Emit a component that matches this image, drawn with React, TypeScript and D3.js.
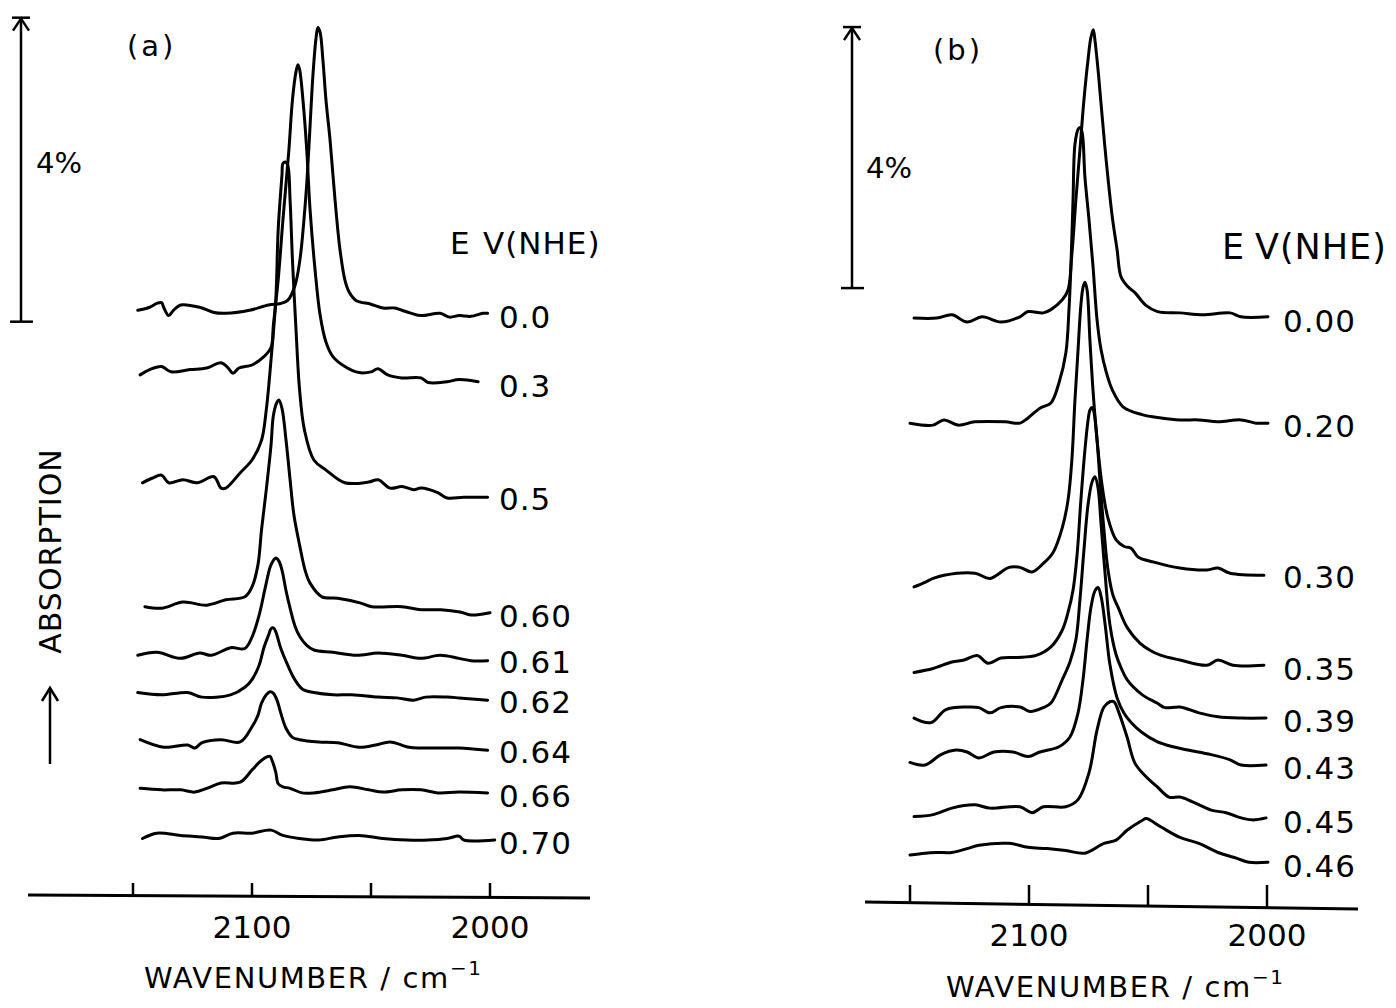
import React from "react";
import * as d3 from "d3";

// ---------- DATA ----------
const axisTicks = [2150, 2100, 2050, 2000];
const labeledTicks = [2100, 2000];
const scaleBarPct = 4;

// Panel (a): potentials (V vs NHE), baseline offsets (%), spectra [wavenumber, absorption % above baseline]
const potentialsA = ["0.0", "0.3", "0.5", "0.60", "0.61", "0.62", "0.64", "0.66", "0.70"];
const offsetsA = [7.68, 6.78, 5.29, 3.75, 3.14, 2.62, 1.96, 1.38, 0.76];

const specA_00: [number, number][] = [[2148,0.04],[2143,0.08],[2140,0.13],[2138,0.14],[2137,0.07],[2135,-0.03],[2133,0.04],[2130,0.11],[2122,0.08],[2116,0.01],[2111,0.0],[2101,0.04],[2093,0.11],[2088,0.13],[2085,0.17],[2081.9,0.37],[2079.8,0.72],[2078.2,1.22],[2076.9,1.75],[2075.6,2.47],[2074.4,3.13],[2073.1,3.62],[2072.3,3.76],[2071.4,3.7],[2070.2,3.33],[2068.9,2.8],[2067.2,2.28],[2065.1,1.49],[2063,0.83],[2060.9,0.43],[2059.2,0.28],[2056.3,0.17],[2050,0.12],[2045,0.07],[2040,0.07],[2037,0.04],[2033,0.0],[2029,-0.03],[2021,0.0],[2017,-0.05],[2013,-0.03],[2008,-0.04],[2003,0.0],[2001,0.0]];
const specA_03: [number, number][] = [[2147,0.09],[2143,0.16],[2138,0.2],[2134,0.13],[2126,0.16],[2119,0.18],[2113,0.25],[2110,0.18],[2108,0.11],[2105.5,0.18],[2100,0.22],[2095,0.33],[2092,0.45],[2091,0.75],[2089,1.34],[2087,2.13],[2084.5,3.05],[2083,3.71],[2081.5,4.08],[2080.7,4.17],[2080,4.11],[2078.6,3.71],[2077,3.05],[2075.6,2.26],[2073.5,1.47],[2071.4,0.88],[2069,0.53],[2066,0.33],[2061,0.2],[2055,0.12],[2050,0.13],[2047,0.17],[2043,0.09],[2037,0.05],[2029,0.05],[2026,-0.01],[2018,0.0],[2013,0.03],[2005,0.0]];
const specA_05: [number, number][] = [[2146,0.16],[2142,0.22],[2138,0.26],[2135,0.16],[2129,0.2],[2123,0.16],[2116,0.24],[2113,0.09],[2111,0.09],[2105,0.29],[2100,0.46],[2096,0.72],[2094,1.12],[2092,1.78],[2090,2.57],[2089,3.49],[2087.4,4.21],[2087,4.36],[2086,4.38],[2085,4.34],[2084,3.88],[2083,3.09],[2081.5,2.17],[2080,1.38],[2078,0.86],[2074,0.46],[2069,0.33],[2061,0.16],[2051,0.17],[2047,0.2],[2042,0.09],[2037,0.11],[2032,0.07],[2029,0.09],[2022,0.03],[2018,-0.04],[2011,-0.03],[2001,-0.03]];
const specA_060: [number, number][] = [[2145,0.07],[2138,0.05],[2129,0.13],[2119,0.09],[2111,0.16],[2103,0.2],[2100,0.33],[2097.5,0.62],[2096,1.08],[2094,1.61],[2092,2.2],[2091,2.59],[2089.5,2.76],[2088.7,2.79],[2087.4,2.68],[2085.7,2.26],[2084,1.74],[2082.4,1.28],[2080,0.88],[2077.7,0.55],[2075.6,0.38],[2070.6,0.2],[2064,0.18],[2054.6,0.12],[2049.6,0.07],[2037,0.07],[2029,0.03],[2020.6,0.03],[2012.6,0.0],[2008,-0.04],[2000,-0.01]];
const specA_061: [number, number][] = [[2148,0.04],[2140,0.08],[2130,0.0],[2122,0.07],[2117,0.04],[2109,0.14],[2103,0.13],[2100,0.28],[2097,0.57],[2094.5,0.92],[2092.4,1.2],[2091,1.29],[2090,1.32],[2088.7,1.28],[2087.4,1.16],[2085.7,0.89],[2084,0.66],[2082,0.43],[2080,0.29],[2077,0.17],[2074,0.11],[2066,0.08],[2056,0.04],[2047,0.07],[2037,0.04],[2029,0.0],[2021,0.04],[2013,0.0],[2008,-0.03],[2001,-0.03]];
const specA_062: [number, number][] = [[2148,0.07],[2138,0.04],[2127,0.07],[2121,0.01],[2109,0.04],[2103,0.14],[2100,0.24],[2097,0.43],[2095,0.66],[2093,0.83],[2092,0.91],[2091,0.92],[2090,0.87],[2088,0.66],[2085,0.43],[2082,0.24],[2078.6,0.11],[2074,0.07],[2066,0.04],[2058,0.04],[2047,0.01],[2039,0.0],[2032,-0.03],[2027,0.01],[2018,0.01],[2013,0.0],[2001,-0.03]];
const specA_064: [number, number][] = [[2147,0.11],[2137,0.01],[2127,0.04],[2124,0.0],[2121,0.07],[2113,0.11],[2105,0.08],[2100,0.28],[2097.5,0.43],[2096,0.59],[2094,0.7],[2092.4,0.74],[2091,0.72],[2089.5,0.63],[2088,0.47],[2085.7,0.26],[2083,0.14],[2080,0.11],[2072,0.08],[2064,0.07],[2055,0.01],[2048,0.04],[2042,0.08],[2034,0.01],[2029,0.0],[2021,0.0],[2013,0.0],[2001,-0.03]];
const specA_066: [number, number][] = [[2147,0.05],[2138,0.03],[2130,0.03],[2124,0.0],[2119,0.05],[2113,0.12],[2105,0.13],[2100,0.29],[2097,0.39],[2094,0.46],[2092.4,0.47],[2091.6,0.42],[2090,0.26],[2089,0.11],[2087,0.07],[2084,0.05],[2079,-0.01],[2074,-0.01],[2066,0.03],[2059,0.07],[2051,0.03],[2045,0.0],[2037,0.03],[2029,0.03],[2022,-0.01],[2013,0.0],[2001,-0.01]];
const specA_070: [number, number][] = [[2146,0.01],[2140,0.08],[2130,0.05],[2121,0.03],[2114,0.01],[2108,0.08],[2100,0.08],[2092,0.12],[2087,0.05],[2080,0.01],[2072,-0.01],[2064,0.03],[2055,0.05],[2045,0.01],[2035,-0.01],[2026,-0.01],[2018,0.01],[2013,0.04],[2011,-0.01],[1998,-0.01]];
const spectraA = [specA_00, specA_03, specA_05, specA_060, specA_061, specA_062, specA_064, specA_066, specA_070];

// Panel (b)
const potentialsB = ["0.00", "0.20", "0.30", "0.35", "0.39", "0.43", "0.45", "0.46"];
const offsetsB = [9.03, 7.42, 5.1, 3.69, 2.9, 2.18, 1.35, 0.67];

const specB_000: [number, number][] = [[2148.3,-0.02],[2138.7,-0.02],[2132.4,0.03],[2126,-0.08],[2119.7,0.0],[2111.8,-0.08],[2103.8,0.0],[2100.4,0.08],[2094,0.06],[2090.8,0.11],[2086,0.26],[2083.6,0.41],[2082,0.95],[2080.3,1.79],[2078.6,2.56],[2076.9,3.33],[2075.2,3.94],[2074,4.28],[2073,4.4],[2072.3,4.24],[2071,3.79],[2069.7,3.25],[2067.6,2.41],[2065,1.53],[2063,1.03],[2061.3,0.61],[2058.4,0.46],[2055.5,0.37],[2051,0.18],[2046,0.08],[2036.6,0.06],[2027,0.03],[2015.5,0.06],[2011,0.0],[1999.6,0.0]];
const specB_020: [number, number][] = [[2150,-0.02],[2140.3,-0.05],[2135.7,0.03],[2129.8,-0.05],[2122.7,0.0],[2110,0.0],[2103.8,-0.02],[2100.4,0.06],[2095.4,0.21],[2090.8,0.29],[2087.4,0.6],[2084.5,1.06],[2083.2,1.72],[2082.4,2.38],[2081.5,3.4],[2080.7,4.25],[2079.4,4.48],[2078.6,4.51],[2077.7,4.44],[2076.5,3.75],[2074.8,3.1],[2073.1,2.38],[2071.4,1.56],[2069.7,1.1],[2067.6,0.77],[2065,0.49],[2060.5,0.23],[2052.5,0.11],[2044.5,0.06],[2036.6,0.03],[2028.6,0.03],[2020.6,0.0],[2010.9,0.03],[2004.6,-0.02],[1999.6,-0.02]];
const specB_030: [number, number][] = [[2148.3,-0.21],[2143.7,-0.14],[2140.3,-0.08],[2135.7,-0.03],[2122.7,0.0],[2116.4,-0.08],[2108.4,0.09],[2103.8,0.09],[2098.7,0.02],[2094,0.15],[2090,0.31],[2086,0.7],[2083.6,1.12],[2082,1.73],[2080.7,2.65],[2079.4,3.42],[2078.2,4.11],[2077.3,4.38],[2076.5,4.46],[2075.6,4.34],[2074.4,3.57],[2073.1,2.8],[2071.4,2.04],[2069.3,1.35],[2066.8,0.84],[2063.4,0.51],[2060,0.41],[2057,0.38],[2054.2,0.25],[2047.5,0.17],[2036.6,0.08],[2025.2,0.05],[2020.6,0.08],[2015.5,0.0],[2001.3,-0.03]];
const specB_035: [number, number][] = [[2148.3,-0.11],[2140.3,-0.05],[2132.4,0.05],[2127.3,0.08],[2121.8,0.15],[2117.2,0.03],[2111.8,0.11],[2105,0.12],[2097,0.15],[2090.8,0.28],[2086,0.54],[2083.6,0.81],[2081.5,1.15],[2079.8,1.69],[2078.2,2.53],[2076.5,3.3],[2075.2,3.75],[2074.4,3.91],[2073.5,3.95],[2072.7,3.88],[2071.4,3.45],[2070.2,2.84],[2068.5,2.07],[2066.8,1.46],[2064.7,1.07],[2062.6,0.89],[2058.8,0.58],[2053.4,0.34],[2049.2,0.23],[2044.5,0.15],[2036.6,0.08],[2025.2,0.0],[2020.6,0.08],[2014.3,0.0],[2001.3,0.0]];
const specB_039: [number, number][] = [[2148.3,-0.02],[2141.2,-0.09],[2134.9,0.11],[2126,0.15],[2121,0.14],[2116.4,0.06],[2111.8,0.14],[2103.8,0.15],[2099.6,0.08],[2094,0.14],[2090.8,0.21],[2086,0.57],[2082.8,0.84],[2080.3,1.18],[2078.6,1.79],[2076.9,2.56],[2075.2,3.25],[2073.5,3.6],[2072.3,3.68],[2071,3.51],[2069.7,2.94],[2068,2.18],[2066,1.41],[2063.4,0.95],[2061.3,0.75],[2058.8,0.57],[2052.5,0.34],[2046.2,0.21],[2042.9,0.14],[2036.6,0.15],[2028.6,0.06],[2020.6,0.0],[2010.9,-0.02],[2000.4,-0.02]];
const specB_043: [number, number][] = [[2150,0.02],[2143.7,-0.02],[2137,0.14],[2130.7,0.21],[2126,0.18],[2121,0.09],[2114.7,0.18],[2106.7,0.18],[2100.4,0.11],[2095.4,0.18],[2087.4,0.26],[2082.8,0.41],[2079.4,0.78],[2077.3,1.29],[2075.6,1.9],[2074,2.39],[2072.3,2.65],[2071,2.7],[2069.7,2.56],[2068,2.13],[2066,1.52],[2063,1.01],[2060,0.77],[2057,0.63],[2052.5,0.48],[2046.2,0.34],[2039.5,0.26],[2033.2,0.21],[2023.5,0.14],[2015.5,0.06],[2010.9,-0.02],[2000.4,-0.02]];
const specB_045: [number, number][] = [[2148.3,0.02],[2140.3,0.05],[2132.4,0.15],[2122.7,0.2],[2116.4,0.15],[2103.8,0.17],[2098.7,0.08],[2094,0.17],[2084.5,0.17],[2079.4,0.28],[2074.8,0.69],[2071.4,1.35],[2068.5,1.7],[2066,1.78],[2064.3,1.78],[2062.2,1.61],[2058.8,1.24],[2055.5,0.84],[2050.8,0.63],[2046.2,0.48],[2041.2,0.32],[2036.6,0.32],[2031.5,0.25],[2023.5,0.12],[2017.2,0.08],[2012.6,0.02],[2006.3,-0.03],[2000.4,0.0]];
const specB_046: [number, number][] = [[2150,0.11],[2143.7,0.14],[2138.7,0.15],[2132.4,0.15],[2126,0.21],[2121,0.26],[2108.4,0.29],[2100.4,0.23],[2092.4,0.21],[2084.5,0.18],[2076.5,0.14],[2068.5,0.29],[2063.4,0.34],[2058.8,0.49],[2052.5,0.64],[2050.8,0.67],[2044.5,0.54],[2036.6,0.38],[2028.6,0.29],[2020.6,0.15],[2012.6,0.06],[2007.6,0.0],[1999.6,0.0]];
const spectraB = [specB_000, specB_020, specB_030, specB_035, specB_039, specB_043, specB_045, specB_046];

// ---------- LAYOUT ----------
const FONT = "'DejaVu Sans', 'Open Sans', sans-serif";

type PanelProps = {
  letter: string;
  potentials: string[];
  offsets: number[];
  spectra: [number, number][][];
  xRange: [number, number];
  yZero: number;
  pxPerPct: number;
  axisLine: [number, number, number, number];
  tickTop: number;
  barX: number;
  barBottomPct: number;
  labelX: number;
  letterPos: [number, number];
  pctPos: [number, number];
  evPos: [number, number, number];
  evSize: number;
  tickLabelY: number;
  titlePos: [number, number];
};

function Panel(p: PanelProps) {
  const x = d3.scaleLinear().domain([2150, 2000]).range(p.xRange);
  const y = d3.scaleLinear().domain([0, 10]).range([p.yZero, p.yZero - 10 * p.pxPerPct]);
  const [ax1, ay1, ax2, ay2] = p.axisLine;
  const axisY = (px: number) => ay1 + ((px - ax1) / (ax2 - ax1)) * (ay2 - ay1);
  const barTop = y(p.barBottomPct + scaleBarPct);
  const barBot = y(p.barBottomPct);
  return (
    <g>
      {p.spectra.map((s, i) => {
        const line = d3
          .line<[number, number]>()
          .x((d) => x(d[0]))
          .y((d) => y(p.offsets[i] + d[1]))
          .curve(d3.curveCatmullRom.alpha(0.5));
        return (
          <path key={i} d={line(s) || ""} fill="none" stroke="#000" strokeWidth={3} strokeLinejoin="round" strokeLinecap="round" />
        );
      })}
      {p.potentials.map((lab, i) => (
        <text key={lab} x={p.labelX} y={y(p.offsets[i]) + 15} fontSize={31} letterSpacing={1} fontFamily={FONT}>
          {lab}
        </text>
      ))}
      <line x1={ax1} y1={ay1} x2={ax2} y2={ay2} stroke="#000" strokeWidth={3} />
      {axisTicks.map((t) => (
        <line key={t} x1={x(t)} x2={x(t)} y1={p.tickTop} y2={axisY(x(t))} stroke="#000" strokeWidth={2.5} />
      ))}
      {labeledTicks.map((t) => (
        <text key={t} x={x(t)} y={p.tickLabelY} textAnchor="middle" fontSize={31} fontFamily={FONT}>
          {t}
        </text>
      ))}
      <text x={p.titlePos[0]} y={p.titlePos[1]} fontSize={29} letterSpacing={1.6} fontFamily={FONT}>
        WAVENUMBER / cm
        <tspan dy={-13} fontSize={20}>−1</tspan>
      </text>
      <line x1={p.barX} x2={p.barX} y1={barTop} y2={barBot} stroke="#000" strokeWidth={2.5} />
      <line x1={p.barX - 9} x2={p.barX + 9} y1={barTop} y2={barTop} stroke="#000" strokeWidth={2.5} />
      <polyline points={`${p.barX - 8},${barTop + 13} ${p.barX},${barTop + 1} ${p.barX + 8},${barTop + 13}`} fill="none" stroke="#000" strokeWidth={2.5} />
      <line x1={p.barX - 11} x2={p.barX + 12} y1={barBot} y2={barBot} stroke="#000" strokeWidth={2.5} />
      <text x={p.pctPos[0]} y={p.pctPos[1]} fontSize={29} fontFamily={FONT}>4%</text>
      <text x={p.letterPos[0]} y={p.letterPos[1]} fontSize={29} letterSpacing={3} fontFamily={FONT}>({p.letter})</text>
      <text x={p.evPos[0]} y={p.evPos[2]} fontSize={p.evSize} fontFamily={FONT}>E</text>
      <text x={p.evPos[1]} y={p.evPos[2]} fontSize={p.evSize} letterSpacing={1} fontFamily={FONT}>V(NHE)</text>
    </g>
  );
}

export default function App() {
  return (
    <svg width={1396} height={1008} style={{ display: "block", position: "absolute", left: 0, top: 0, background: "#fff" }}>
      <rect width={1396} height={1008} fill="#fff" />
      <Panel
        letter="a"
        potentials={potentialsA}
        offsets={offsetsA}
        spectra={spectraA}
        xRange={[133, 490]}
        yZero={897}
        pxPerPct={76}
        axisLine={[28, 895, 590, 898]}
        tickTop={883}
        barX={21}
        barBottomPct={7.57}
        labelX={499}
        letterPos={[127, 56]}
        pctPos={[36, 173]}
        evPos={[450, 483, 254]}
        evSize={31}
        tickLabelY={938}
        titlePos={[144, 988]}
      />
      <Panel
        letter="b"
        potentials={potentialsB}
        offsets={offsetsB}
        spectra={spectraB}
        xRange={[910, 1267]}
        yZero={906}
        pxPerPct={65.25}
        axisLine={[865, 902, 1358, 909]}
        tickTop={885}
        barX={852}
        barBottomPct={9.47}
        labelX={1283}
        letterPos={[933, 60]}
        pctPos={[866, 178]}
        evPos={[1222, 1255, 259]}
        evSize={35}
        tickLabelY={946}
        titlePos={[946, 997]}
      />
      <g transform="translate(50,551) rotate(-90)">
        <text x={0} y={0} textAnchor="middle" dominantBaseline="central" fontSize={30} letterSpacing={1} fontFamily={FONT}>
          ABSORPTION
        </text>
      </g>
      <line x1={50} x2={50} y1={764} y2={688} stroke="#000" strokeWidth={2.5} />
      <polyline points="42,701 50,688 58,701" fill="none" stroke="#000" strokeWidth={2.5} />
    </svg>
  );
}
